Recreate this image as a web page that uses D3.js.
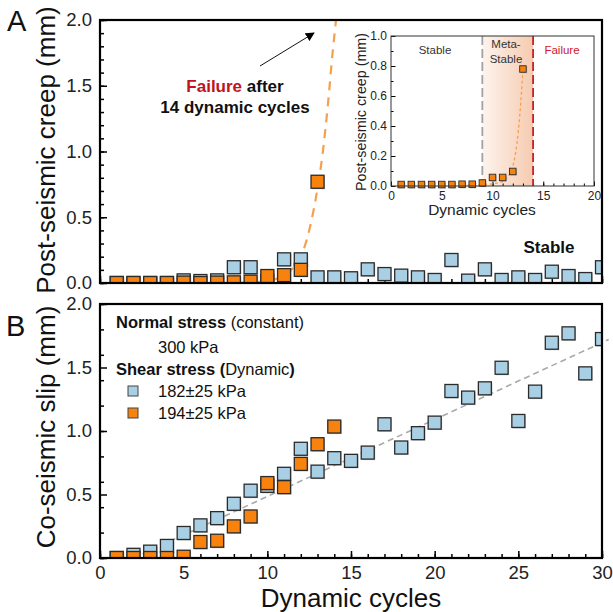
<!DOCTYPE html>
<html>
<head>
<meta charset="utf-8">
<script src="https://cdn.jsdelivr.net/npm/d3@7"></script>
<style>
  html, body { margin: 0; padding: 0; background: #fff; }
  svg { display: block; font-family: "Liberation Sans", Arial, Helvetica, sans-serif; }
</style>
</head>
<body>
<svg id="chart" width="613" height="612"></svg>
<script>
// ---------------- DATA ----------------
const cycles = [1,2,3,4,5,6,7,8,9,10,11,12,13,14,15,16,17,18,19,20,21,22,23,24,25,26,27,28,29,30];
const cyclesOrange = [1,2,3,4,5,6,7,8,9,10,11,12,13,14];

// Panel A: post-seismic creep (mm)
const creepBlue = [0.0,0.0,0.0,0.0,0.02,0.015,0.02,0.12,0.12,0.02,0.18,0.18,0.043,0.043,0.036,0.104,0.068,0.056,0.043,0.023,0.175,0.018,0.104,0.023,0.043,0.023,0.086,0.053,0.03,0.12];
const creepOrange = [0.0,0.0,0.0,0.0,0.003,0.0,0.003,0.005,0.01,0.053,0.06,0.1,0.77];
// Inset (same test, zoomed view)
const insetOrange = [0.01,0.01,0.01,0.01,0.01,0.01,0.012,0.012,0.02,0.057,0.057,0.097,0.78];

// Panel A: failure trend curve
const creepCurveX = [7.4, 9, 10, 10.5, 11, 11.5, 12, 12.5, 13, 13.3, 13.6, 13.9, 14.15];
const creepCurveY = [0.0, 0.005, 0.015, 0.03, 0.06, 0.11, 0.2, 0.4, 0.72, 0.98, 1.33, 1.75, 2.05];

// Inset curve
const insetCurveX = [7, 9, 10, 11, 11.5, 12, 12.4, 12.7, 13];
const insetCurveY = [0.005, 0.01, 0.015, 0.03, 0.06, 0.13, 0.28, 0.48, 0.78];
const insetStableEnd = 9;
const insetFailureAt = 14;

// Panel B: co-seismic slip (mm)
const slipBlue = [0.0,0.025,0.05,0.095,0.197,0.257,0.314,0.427,0.53,0.568,0.663,0.86,0.68,0.786,0.765,0.83,1.053,0.87,0.983,1.066,1.315,1.263,1.336,1.498,1.079,1.31,1.695,1.769,1.454,1.724];
const slipOrange = [0.0,0.0,0.0,0.0,0.01,0.126,0.136,0.249,0.327,0.59,0.558,0.741,0.896,1.035];
const trendX = [2, 30.4];
const trendY = [0, 1.72];

// Tick labels
const xMajor = [0,5,10,15,20,25,30];
const yMajor = [0,0.5,1.0,1.5,2.0];
const insetXMajor = [0,5,10,15,20];
const insetYMajor = [0,0.2,0.4,0.6,0.8,1.0];

const legendLabels = ["182\u00b125 kPa", "194\u00b125 kPa"];

// ---------------- STYLE ----------------
const BLUE = "#a8cfe3";
const ORANGE = "#f7820e";
const EDGE = "#2b2b2b";

const svg = d3.select("#chart");
const defs = svg.append("defs");

const x = d3.scaleLinear().domain([0,30]).range([100,602]);
const yA = d3.scaleLinear().domain([0,2]).range([283,20]);
const yB = d3.scaleLinear().domain([0,2]).range([558,304]);
const xi = d3.scaleLinear().domain([0,20]).range([391,594]);
const yi = d3.scaleLinear().domain([0,1]).range([186,36]);

defs.append("clipPath").attr("id","clipA").append("rect")
  .attr("x",100).attr("y",20).attr("width",502).attr("height",263);
defs.append("clipPath").attr("id","clipB").append("rect")
  .attr("x",100).attr("y",304).attr("width",502).attr("height",254);

const grad = defs.append("linearGradient").attr("id","meta").attr("x1","0").attr("x2","1").attr("y1","0").attr("y2","0");
grad.append("stop").attr("offset","0").attr("stop-color","#fdf4ee");
grad.append("stop").attr("offset","1").attr("stop-color","#f6cbb0");

defs.append("marker").attr("id","arrow").attr("viewBox","0 0 10 10")
  .attr("refX",9).attr("refY",5).attr("markerWidth",9).attr("markerHeight",9)
  .attr("markerUnits","userSpaceOnUse").attr("orient","auto")
  .append("path").attr("d","M0,0 L10,5 L0,10 Z").attr("fill","#000");

function squares(g, xs, ys, xScale, yScale, size, fill) {
  const data = ys.map((v,i)=>({c: xs[i], v}));
  g.selectAll(null).data(data).enter().append("rect")
    .attr("x", d => xScale(d.c) - size/2 + 1)
    .attr("y", d => yScale(d.v) - size/2 + 1)
    .attr("width", size).attr("height", size)
    .attr("fill", "#9d9d9d").attr("opacity", 0.55);
  g.selectAll(null).data(data).enter().append("rect")
    .attr("x", d => xScale(d.c) - size/2)
    .attr("y", d => yScale(d.v) - size/2)
    .attr("width", size).attr("height", size)
    .attr("fill", fill).attr("stroke", EDGE).attr("stroke-width", size > 8 ? 1.3 : 0.9);
}

function styleAxis(g, fontSize) {
  g.select(".domain").remove();
  g.selectAll(".tick line").attr("stroke","#000").attr("stroke-width",1.5);
  g.selectAll("text").attr("fill","#222").attr("font-size", fontSize).attr("font-family","Liberation Sans, Arial, sans-serif");
}

// ================= PANEL A =================
const gA = svg.append("g");
const axAminX = gA.append("g").attr("transform","translate(0,283)")
  .call(d3.axisBottom(x).ticks(30).tickSize(-4).tickFormat(""));
styleAxis(axAminX, 0);
const axAX = gA.append("g").attr("transform","translate(0,283)")
  .call(d3.axisBottom(x).tickValues(xMajor).tickSize(-7).tickFormat(""));
styleAxis(axAX, 0);
const axAminY = gA.append("g").attr("transform","translate(100,0)")
  .call(d3.axisLeft(yA).ticks(20).tickSize(-4).tickFormat(""));
styleAxis(axAminY, 0);
const axAY = gA.append("g").attr("transform","translate(100,0)")
  .call(d3.axisLeft(yA).tickValues(yMajor).tickSize(-7).tickPadding(8).tickFormat(d3.format(".1f")));
styleAxis(axAY, "18.5px");

const marksA = gA.append("g").attr("clip-path","url(#clipA)");
marksA.append("path")
  .datum(creepCurveX.map((c,i)=>[c, creepCurveY[i]]))
  .attr("d", d3.line().x(d=>x(d[0])).y(d=>yA(d[1])).curve(d3.curveMonotoneX))
  .attr("fill","none").attr("stroke","#f7a04c").attr("stroke-width",2.2).attr("stroke-dasharray","9,7");
squares(marksA, cycles, creepBlue, x, yA, 13, BLUE);
squares(marksA, cyclesOrange, creepOrange, x, yA, 13, ORANGE);

gA.append("rect").attr("x",100).attr("y",20).attr("width",502).attr("height",263)
  .attr("fill","none").attr("stroke","#000").attr("stroke-width",2.2);

gA.append("text").attr("transform","translate(55,150) rotate(-90)").attr("text-anchor","middle")
  .attr("font-size","26px").attr("fill","#111").text("Post-seismic creep (mm)");
svg.append("text").attr("x",7).attr("y",31).attr("font-size","29px").attr("fill","#111").text("A");

// annotation
const ann = gA.append("text").attr("text-anchor","middle").attr("font-size","17px").attr("font-weight","bold");
ann.append("tspan").attr("x",235).attr("y",92).attr("fill","#c0141c").text("Failure");
ann.append("tspan").attr("fill","#111").text(" after");
ann.append("tspan").attr("x",235).attr("y",113).attr("fill","#111").text("14 dynamic cycles");
gA.append("line").attr("x1",260).attr("y1",66).attr("x2",314).attr("y2",33)
  .attr("stroke","#111").attr("stroke-width",1).attr("marker-end","url(#arrow)");
gA.append("text").attr("x",549).attr("y",253).attr("text-anchor","middle").attr("font-size","17px")
  .attr("font-weight","bold").attr("fill","#111").text("Stable");

// ================= INSET =================
const gI = svg.append("g");
gI.append("rect").attr("x",xi(insetStableEnd)).attr("y",36).attr("width",xi(insetFailureAt)-xi(insetStableEnd)).attr("height",150)
  .attr("fill","url(#meta)");
const axIminX = gI.append("g").attr("transform","translate(0,186)")
  .call(d3.axisBottom(xi).ticks(20).tickSize(-2.5).tickFormat(""));
styleAxis(axIminX, 0);
const axIX = gI.append("g").attr("transform","translate(0,186)")
  .call(d3.axisBottom(xi).tickValues(insetXMajor).tickSize(-4.5).tickPadding(5).tickFormat(d3.format("d")));
styleAxis(axIX, "12px");
const axIminY = gI.append("g").attr("transform","translate(391,0)")
  .call(d3.axisLeft(yi).ticks(10).tickSize(-2.5).tickFormat(""));
styleAxis(axIminY, 0);
const axIY = gI.append("g").attr("transform","translate(391,0)")
  .call(d3.axisLeft(yi).tickValues(insetYMajor).tickSize(-4.5).tickPadding(4).tickFormat(d3.format(".1f")));
styleAxis(axIY, "12px");
gI.selectAll(".tick line").attr("stroke-width",1);

gI.append("line").attr("x1",xi(insetStableEnd)).attr("x2",xi(insetStableEnd)).attr("y1",36).attr("y2",186)
  .attr("stroke","#a2a2a2").attr("stroke-width",1.8).attr("stroke-dasharray","9,4");
gI.append("line").attr("x1",xi(insetFailureAt)).attr("x2",xi(insetFailureAt)).attr("y1",36).attr("y2",186)
  .attr("stroke","#c8202a").attr("stroke-width",1.8).attr("stroke-dasharray","9,4");

gI.append("path")
  .datum(insetCurveX.map((c,i)=>[c, insetCurveY[i]]))
  .attr("d", d3.line().x(d=>xi(d[0])).y(d=>yi(d[1])).curve(d3.curveMonotoneX))
  .attr("fill","none").attr("stroke","#f7a04c").attr("stroke-width",1.3).attr("stroke-dasharray","3,2.5");
squares(gI, cyclesOrange, insetOrange, xi, yi, 6.5, ORANGE);

gI.append("rect").attr("x",391).attr("y",36).attr("width",203).attr("height",150)
  .attr("fill","none").attr("stroke","#333").attr("stroke-width",1);

gI.append("text").attr("x",435).attr("y",54).attr("text-anchor","middle").attr("font-size","11.5px").attr("fill","#333").text("Stable");
gI.append("text").attr("x",506).attr("y",48).attr("text-anchor","middle").attr("font-size","11.5px").attr("fill","#333").text("Meta-");
gI.append("text").attr("x",506).attr("y",63).attr("text-anchor","middle").attr("font-size","11.5px").attr("fill","#333").text("Stable");
gI.append("text").attr("x",562).attr("y",54).attr("text-anchor","middle").attr("font-size","11.5px").attr("fill","#d0202a").text("Failure");
gI.append("text").attr("transform","translate(366,112) rotate(-90)").attr("text-anchor","middle")
  .attr("font-size","14.3px").attr("fill","#222").text("Post-seismic creep (mm)");
gI.append("text").attr("x",482).attr("y",215).attr("text-anchor","middle")
  .attr("font-size","15.5px").attr("fill","#222").text("Dynamic cycles");

// ================= PANEL B =================
const gB = svg.append("g");
const axBminX = gB.append("g").attr("transform","translate(0,558)")
  .call(d3.axisBottom(x).ticks(30).tickSize(-4).tickFormat(""));
styleAxis(axBminX, 0);
const axBX = gB.append("g").attr("transform","translate(0,558)")
  .call(d3.axisBottom(x).tickValues(xMajor).tickSize(-7).tickPadding(8).tickFormat(d3.format("d")));
styleAxis(axBX, "18.5px");
const axBminY = gB.append("g").attr("transform","translate(100,0)")
  .call(d3.axisLeft(yB).ticks(8).tickSize(-4).tickFormat(""));
styleAxis(axBminY, 0);
const axBY = gB.append("g").attr("transform","translate(100,0)")
  .call(d3.axisLeft(yB).tickValues(yMajor).tickSize(-7).tickPadding(8).tickFormat(d3.format(".1f")));
styleAxis(axBY, "18.5px");

gB.append("path")
  .datum(trendX.map((c,i)=>[c, trendY[i]]))
  .attr("d", d3.line().x(d=>x(d[0])).y(d=>yB(d[1])))
  .attr("fill","none").attr("stroke","#a9a9a9").attr("stroke-width",1.6).attr("stroke-dasharray","6,4");

const marksB = gB.append("g").attr("clip-path","url(#clipB)");
squares(marksB, cycles, slipBlue, x, yB, 13, BLUE);
squares(marksB, cyclesOrange, slipOrange, x, yB, 13, ORANGE);

gB.append("rect").attr("x",100).attr("y",304).attr("width",502).attr("height",254)
  .attr("fill","none").attr("stroke","#000").attr("stroke-width",2.2);

gB.append("text").attr("transform","translate(55,427) rotate(-90)").attr("text-anchor","middle")
  .attr("font-size","26px").attr("fill","#111").text("Co-seismic slip (mm)");
svg.append("text").attr("x",6).attr("y",336).attr("font-size","29px").attr("fill","#111").text("B");
gB.append("text").attr("x",351).attr("y",607).attr("text-anchor","middle")
  .attr("font-size","26px").attr("fill","#111").text("Dynamic cycles");

// legend
const lg = gB.append("g").attr("font-size","16.5px").attr("fill","#111");
const l1 = lg.append("text").attr("x",116).attr("y",328);
l1.append("tspan").attr("font-weight","bold").text("Normal stress");
l1.append("tspan").text(" (constant)");
lg.append("text").attr("x",158).attr("y",353).text("300 kPa");
const l3 = lg.append("text").attr("x",116).attr("y",375);
l3.append("tspan").attr("font-weight","bold").text("Shear stress (");
l3.append("tspan").text("Dynamic");
l3.append("tspan").attr("font-weight","bold").text(")");
[BLUE, ORANGE].forEach((c,i) => {
  const yy = 391 + i*22;
  lg.append("rect").attr("x",128).attr("y",yy-5).attr("width",10).attr("height",10)
    .attr("fill",c).attr("stroke","#444").attr("stroke-width",1);
  lg.append("text").attr("x",158).attr("y",yy+6).text(legendLabels[i]);
});
</script>
</body>
</html>
